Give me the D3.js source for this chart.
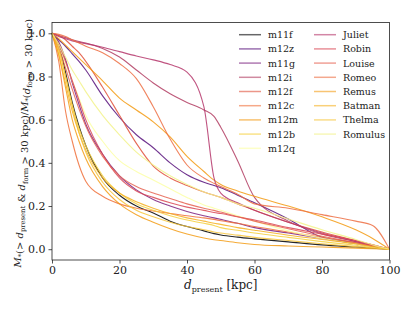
<!DOCTYPE html>
<html>
<head>
<meta charset="utf-8">
<script src="https://cdn.jsdelivr.net/npm/d3@7"></script>
<style>
  body { margin: 0; background: #fff; }
</style>
</head>
<body>
<div id="chart"></div>
<script>
// distance grid (kpc) shared by every curve
const dist = [0, 2, 4, 6, 8, 10, 15, 20, 25, 30, 35, 40, 45, 48, 50, 55, 60, 70, 80, 90, 95, 100];

const names = ["m11f", "m12z", "m11g", "m12i", "m12f", "m12c", "m12m", "m12b", "m12q",
               "Juliet", "Robin", "Louise", "Romeo", "Remus", "Batman", "Thelma", "Romulus"];

const colors = ["#000004", "#57117b", "#7b1f7e", "#b13c61", "#e0503a", "#f0703a", "#f39a10", "#f5cf3a", "#fcffa4",
                "#b5366b", "#d94653", "#e66150", "#ed6e43", "#f39c15", "#f5b020", "#f6c43a", "#f2f28a"];

const m11f    = [1, .95, .82, .68, .57, .48, .33, .25, .2, .168, .13, .105, .085, .072, .066, .056, .048, .034, .02, .01, .005, 0];
const m12z    = [1, .97, .94, .905, .87, .83, .71, .61, .53, .47, .4, .345, .31, .295, .285, .25, .215, .14, .055, .03, .015, 0];
const m11g    = [1, .96, .88, .77, .67, .58, .44, .34, .275, .23, .2, .175, .155, .145, .138, .12, .1, .075, .05, .025, .01, 0];
const m12i    = [1, .99, .98, .97, .962, .955, .93, .89, .83, .77, .72, .68, .645, .615, .565, .41, .24, .13, .07, .035, .015, 0];
const m12f    = [1, .99, .97, .94, .91, .87, .75, .62, .49, .385, .33, .295, .265, .25, .24, .21, .18, .125, .08, .04, .02, 0];
const m12c    = [1, .87, .64, .5, .39, .315, .245, .21, .19, .177, .165, .155, .145, .138, .132, .12, .105, .08, .055, .03, .015, 0];
const m12m    = [1, .975, .945, .915, .885, .855, .78, .7, .645, .59, .52, .43, .36, .32, .3, .27, .245, .2, .15, .09, .05, 0];
const m12b    = [1, .92, .8, .67, .56, .48, .34, .26, .21, .18, .155, .135, .12, .11, .1, .088, .075, .055, .035, .018, .008, 0];
const m12q    = [1, .94, .86, .78, .7, .62, .5, .41, .36, .32, .28, .24, .205, .19, .18, .155, .13, .085, .05, .025, .01, 0];
const Juliet  = [1, .985, .975, .965, .958, .952, .935, .915, .895, .877, .855, .82, .66, .33, .26, .215, .18, .125, .075, .035, .015, 0];
const Robin   = [1, .95, .87, .78, .69, .6, .44, .33, .27, .24, .215, .195, .18, .17, .165, .15, .135, .1, .07, .04, .02, 0];
const Louise  = [1, .93, .84, .74, .65, .57, .43, .34, .29, .26, .235, .21, .19, .18, .172, .15, .13, .095, .06, .03, .015, 0];
const Romeo   = [1, .995, .985, .97, .955, .94, .91, .86, .79, .66, .51, .39, .33, .305, .29, .255, .21, .19, .16, .13, .11, 0];
const Remus   = [1, .9, .75, .6, .5, .42, .29, .21, .16, .125, .095, .07, .052, .044, .04, .03, .022, .015, .01, .005, .002, 0];
const Batman  = [1, .9, .77, .64, .54, .46, .33, .26, .22, .19, .165, .145, .13, .12, .115, .1, .088, .065, .045, .025, .012, 0];
const Thelma  = [1, .93, .8, .66, .54, .45, .31, .23, .18, .15, .125, .105, .09, .08, .075, .065, .055, .04, .025, .012, .006, 0];
const Romulus = [1, .95, .89, .83, .78, .73, .62, .53, .45, .39, .34, .3, .265, .25, .24, .21, .19, .14, .09, .045, .02, 0];

const values = [m11f, m12z, m11g, m12i, m12f, m12c, m12m, m12b, m12q,
                Juliet, Robin, Louise, Romeo, Remus, Batman, Thelma, Romulus];

const xTicks = [0, 20, 40, 60, 80, 100];
const yTicks = [0.0, 0.2, 0.4, 0.6, 0.8, 1.0];

const width = 415;
const height = 312;
const margin = { top: 22.5, right: 25.5, bottom: 52, left: 52 };
const serif = "DejaVu Serif";

const svg = d3.select("#chart")
  .append("svg")
  .attr("width", width)
  .attr("height", height)
  .attr("font-family", serif);

const x = d3.scaleLinear()
  .domain([0, 100])
  .range([margin.left, width - margin.right]);

const y = d3.scaleLinear()
  .domain([-0.05, 1.05])
  .range([height - margin.bottom, margin.top]);

const line = d3.line()
  .x((d, i) => x(dist[i]))
  .y(d => y(d))
  .curve(d3.curveMonotoneX);

svg.append("g")
  .selectAll("path")
  .data(values)
  .enter()
  .append("path")
  .attr("d", d => line(d))
  .attr("fill", "none")
  .attr("stroke", (d, i) => colors[i])
  .attr("stroke-width", 1.1)
  .attr("stroke-opacity", 0.85);

// axes
const xAxis = svg.append("g")
  .attr("transform", `translate(0,${height - margin.bottom})`)
  .call(d3.axisBottom(x).tickValues(xTicks).tickSize(3.5).tickPadding(3));

const yAxis = svg.append("g")
  .attr("transform", `translate(${margin.left},0)`)
  .call(d3.axisLeft(y).tickValues(yTicks).tickFormat(d3.format(".1f")).tickSize(3.5).tickPadding(3));

[xAxis, yAxis].forEach(a => {
  a.attr("font-family", serif).attr("font-size", 11);
  a.select(".domain").remove();
  a.selectAll("line").attr("stroke", "#222").attr("stroke-width", 0.8);
  a.selectAll("text").attr("fill", "#222");
});

// frame
svg.append("rect")
  .attr("x", margin.left)
  .attr("y", margin.top)
  .attr("width", width - margin.left - margin.right)
  .attr("height", height - margin.top - margin.bottom)
  .attr("fill", "none")
  .attr("stroke", "#222")
  .attr("stroke-width", 0.8);

// x label
const xl = svg.append("text")
  .attr("x", (margin.left + width - margin.right) / 2)
  .attr("y", 289)
  .attr("text-anchor", "middle")
  .attr("font-size", 12)
  .attr("fill", "#222");
xl.append("tspan").attr("font-style", "italic").text("d");
xl.append("tspan").attr("font-size", 8).attr("dy", 2.5).text("present");
xl.append("tspan").attr("dy", -2.5).text(" [kpc]");

// y label
const yl = svg.append("text")
  .attr("transform", `translate(21,${(margin.top + height - margin.bottom) / 2 + 2}) rotate(-90)`)
  .attr("text-anchor", "middle")
  .attr("font-size", 10)
  .attr("fill", "#222");
function sub(t) {
  yl.append("tspan").attr("font-size", 6.8).attr("dy", 2.2).text(t);
  yl.append("tspan").attr("dy", -2.2).text("");
}
yl.append("tspan").attr("font-style", "italic").text("M");
sub("*");
yl.append("tspan").text("(> ");
yl.append("tspan").attr("font-style", "italic").text("d");
sub("present");
yl.append("tspan").text(" & ");
yl.append("tspan").attr("font-style", "italic").text("d");
sub("form");
yl.append("tspan").text(" > 30 kpc)/");
yl.append("tspan").attr("font-style", "italic").text("M");
sub("*");
yl.append("tspan").text("(");
yl.append("tspan").attr("font-style", "italic").text("d");
sub("form");
yl.append("tspan").text(" > 30 kpc)");

// legend, two columns
const legend = svg.append("g")
  .selectAll("g")
  .data(names)
  .enter()
  .append("g")
  .attr("transform", (d, i) => {
    const col = i < 9 ? 0 : 1;
    const row = i < 9 ? i : i - 9;
    return `translate(${239 + col * 75},${34.7 + row * 14.2})`;
  });

legend.append("line")
  .attr("x1", 0)
  .attr("x2", 22)
  .attr("stroke", (d, i) => colors[i])
  .attr("stroke-width", 1.5)
  .attr("stroke-opacity", 0.6);

legend.append("text")
  .attr("x", 29)
  .attr("y", 3.5)
  .attr("font-size", 9.5)
  .attr("fill", "#222")
  .text(d => d);
</script>
</body>
</html>
